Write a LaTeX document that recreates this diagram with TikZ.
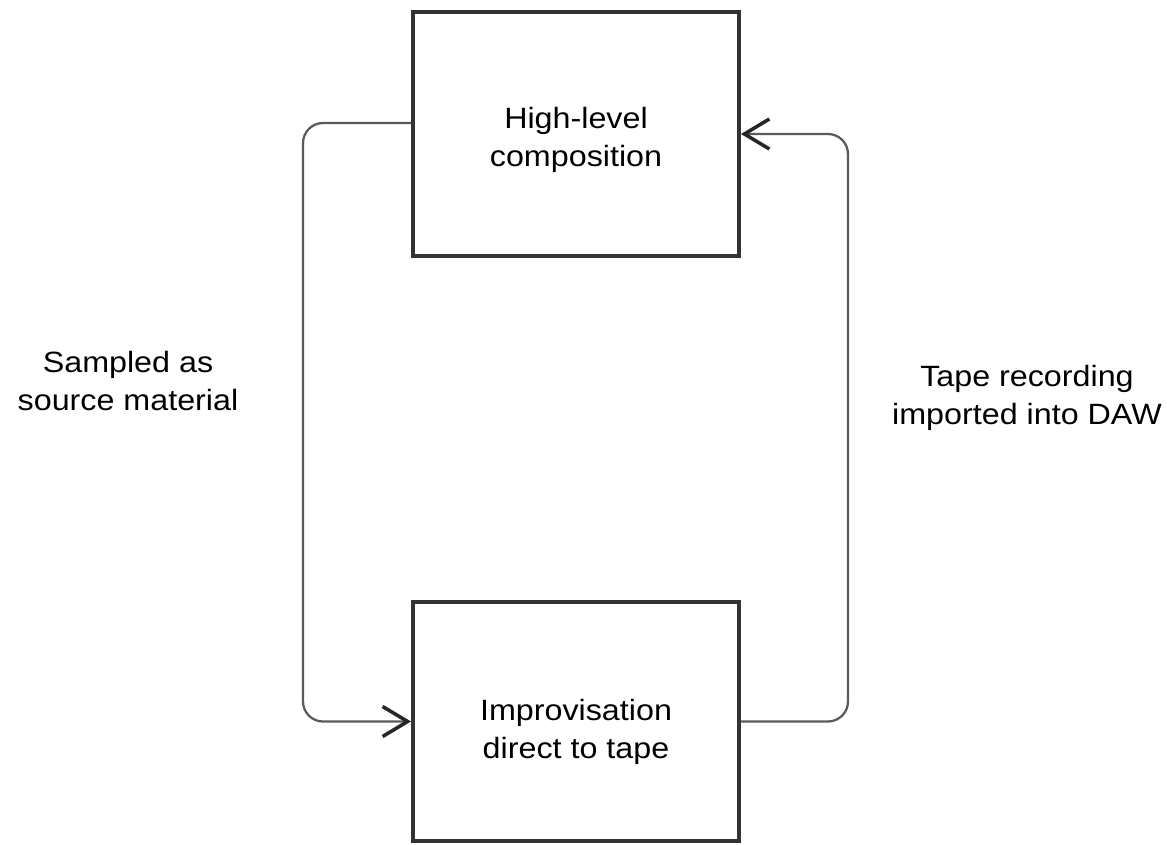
\documentclass[tikz,border=0pt]{standalone}
\usepackage{fontspec}
\setmainfont{Liberation Sans}[FakeStretch=1.1]
\usetikzlibrary{arrows.meta}
\definecolor{boxgray}{HTML}{333333}
\definecolor{linegray}{HTML}{5A5A5A}
\definecolor{tipgray}{HTML}{262626}
\begin{document}
\begin{tikzpicture}[x=0.02cm,y=-0.02cm,
  txt/.style={font={\fontsize{16.7pt}{21.8pt}\selectfont}, align=center, text=black},
  box/.style={draw=boxgray, line width=0.08cm, minimum width=6.52cm, inner sep=0pt},
  conn/.style={draw=linegray, line width=0.045cm, rounded corners=0.4cm,
    -{Straight Barb[length=0.5cm, width=0.6cm, line width=0.07cm, color=tipgray]}}]
\useasboundingbox (0,0) rectangle (1167,845);
\node[box, minimum height=4.88cm,
  label={[txt, yshift=-0.12cm]center:High-level\\composition}] (top) at (576,134) {};
\node[box, minimum height=4.78cm,
  label={[txt, yshift=-0.21cm]center:Improvisation\\direct to tape}] (bot) at (576,721.5) {};
\node[txt] (lab1) at (128,381) {Sampled as\\source material};
\node[txt] (lab2) at (1027,398) {Tape recording\\imported into DAW};
\draw[conn] ([yshift=0.22cm]top.west) -- ++(-108,0) |- (bot.west);
\draw[conn] (bot.east) -- ++(107,0) |- (top.east);
\end{tikzpicture}
\end{document}
